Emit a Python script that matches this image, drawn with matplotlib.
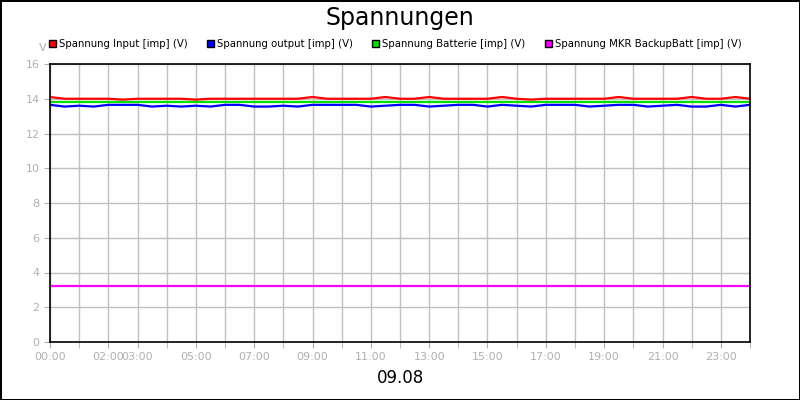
import matplotlib
matplotlib.use("Agg")
import matplotlib.pyplot as plt
import numpy as np

# half-hourly samples over the day (hours)
hours = np.arange(0, 24.01, 0.5)
v_input = [14.1, 14.0, 14.0, 14.0, 14.0, 13.95, 14.0, 14.0, 14.0, 14.0, 13.95, 14.0,
           14.0, 14.0, 14.0, 14.0, 14.0, 14.0, 14.1, 14.0, 14.0, 14.0, 14.0, 14.1,
           14.0, 14.0, 14.1, 14.0, 14.0, 14.0, 14.0, 14.1, 14.0, 13.95, 14.0, 14.0,
           14.0, 14.0, 14.0, 14.1, 14.0, 14.0, 14.0, 14.0, 14.1, 14.0, 14.0, 14.1, 14.0]
v_output = [13.65, 13.55, 13.6, 13.55, 13.65, 13.65, 13.65, 13.55, 13.6, 13.55, 13.6, 13.55,
            13.65, 13.65, 13.55, 13.55, 13.6, 13.55, 13.65, 13.65, 13.65, 13.65, 13.55, 13.6,
            13.65, 13.65, 13.55, 13.6, 13.65, 13.65, 13.55, 13.65, 13.6, 13.55, 13.65, 13.65,
            13.65, 13.55, 13.6, 13.65, 13.65, 13.55, 13.6, 13.65, 13.55, 13.55, 13.65, 13.55, 13.65]
v_batt = [13.8] * 49
v_mkr = [3.2] * 49

series = [
    ("Spannung Input [imp] (V)", v_input, "#ff0000"),
    ("Spannung output [imp] (V)", v_output, "#0000ff"),
    ("Spannung Batterie [imp] (V)", v_batt, "#00e000"),
    ("Spannung MKR BackupBatt [imp] (V)", v_mkr, "#ff00ff"),
]
tick_hours = [0, 2, 3, 5, 7, 9, 11, 13, 15, 17, 19, 21, 23]
tick_labels = [f"{h:02d}:00" for h in tick_hours]

fig = plt.figure(figsize=(8, 4), dpi=100)
fig.patch.set_edgecolor("black")
fig.patch.set_linewidth(2)
ax = fig.add_axes([50 / 800, 58 / 400, 700 / 800, 278 / 400])

for label, vals, color in series:
    ax.plot(hours, vals, color=color, linewidth=1.6, label=label)

ax.set_xlim(0, 24)
ax.set_ylim(0, 16)
ax.set_yticks(range(0, 17, 2))
ax.set_xticks(range(0, 25), minor=True)
ax.set_xticks(tick_hours, tick_labels)
ax.grid(True, which="both", axis="x", color="#c0c0c0", linewidth=1)
ax.grid(True, which="major", axis="y", color="#c0c0c0", linewidth=1)
ax.set_axisbelow(True)
ax.tick_params(colors="#b0b0b0", labelsize=8, length=4)
ax.tick_params(which="minor", colors="#b0b0b0", length=4)
for s in ax.spines.values():
    s.set_linewidth(1.2)

fig.text(0.5, 0.955, "Spannungen", ha="center", va="center", fontsize=17)
fig.text(0.5, 0.055, "09.08", ha="center", va="center", fontsize=12)
fig.text(43 / 800, 0.88, "V", ha="center", va="center", fontsize=8, color="#b0b0b0")

handles = [plt.Rectangle((0, 0), 1, 1, facecolor=c, edgecolor="black") for _, _, c in series]
fig.legend(handles, [s[0] for s in series], loc="center", bbox_to_anchor=(0.494, 0.89),
           ncol=4, frameon=False, fontsize=7.3, handlelength=0.7, handleheight=0.7,
           handletextpad=0.3, columnspacing=1.9)

fig.savefig("out.png", dpi=100)
